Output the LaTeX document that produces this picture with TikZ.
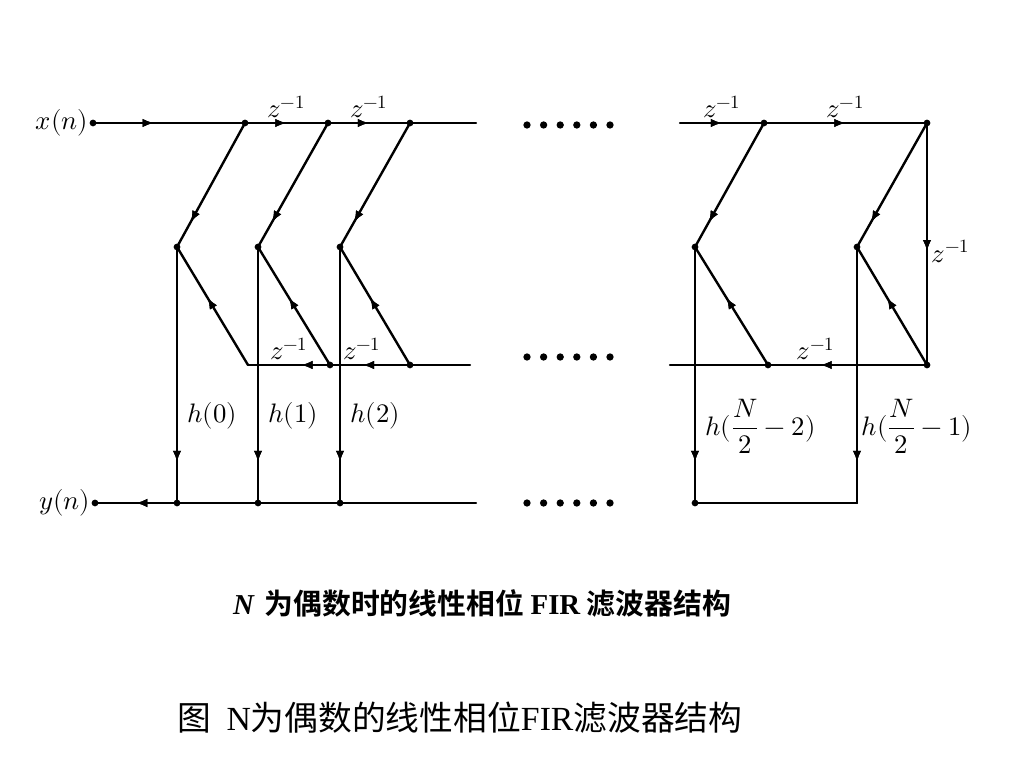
\documentclass[tikz,border=0pt]{standalone}
\usepackage{amsmath, fontspec, unicode-math, tkz-euclide}
\usetikzlibrary{arrows.meta, decorations.markings}
\setmathfont{Latin Modern Math}
\newfontfamily\cjk{Noto Sans CJK SC}[BoldFont={Noto Sans CJK SC Bold}]
\newfontfamily\romfont{Liberation Serif}
\tikzset{flow/.style = {postaction = {decorate}, decoration = {markings, mark = at position #1 with {\arrow{Latex[length=8pt, width=6pt]}}}}, flow/.default = 0.5}
\tikzset{sig/.style = {line width = 1.7pt}, lab/.style = {font = \fontsize{19}{21}\selectfont}}

\begin{document}
\begin{tikzpicture}[x=0.025cm, y=0.025cm]
\useasboundingbox (0,0) rectangle (1024,768);
\tkzDefPoints{93/645/X, 245/645/T1, 328/645/T2, 410/645/T3, 476/645/TE, 680/645/TS, 764/645/T4, 927/645/T5}
\tkzDefPoints{177/521/M1, 258/521/M2, 340/521/M3, 695/521/M4, 857/521/M5}
\tkzDefPoints{248/403/B1, 330/403/B2, 410/403/B3, 470/403/BE, 670/403/BS, 768/403/B4, 927/403/B5}
\tkzDefPoints{95/265/Y, 177/265/O1, 258/265/O2, 340/265/O3, 476/265/OE, 695/265/O4, 857/265/O5}
\tkzDrawSegment[sig, flow=0.4](X,T1)
\tkzDrawSegments[sig, flow](T1,T2 T2,T3 TS,T4 T4,T5)
\tkzDrawSegments[sig](T3,TE BE,B3 B4,BS OE,O3 O3,O2 O2,O1 O5,O4)
\tkzDrawSegment[sig, flow=0.53](T5,B5)
\tkzDrawSegments[sig, flow=0.8](T1,M1 T2,M2 T3,M3 T4,M4 T5,M5)
\tkzDrawSegments[sig, flow=0.57](B1,M1 B2,M2 B3,M3 B4,M4 B5,M5)
\tkzDrawSegment[sig, flow=0.35](B2,B1)
\tkzDrawSegment[sig, flow=0.59](B3,B2)
\tkzDrawSegment[sig, flow=0.67](B5,B4)
\tkzDrawSegments[sig, flow=0.84](M1,O1 M2,O2 M3,O3 M4,O4 M5,O5)
\tkzDrawSegment[sig, flow=0.5](O1,Y)
\foreach \p in {X,T1,T2,T3,T4,T5,M1,M2,M3,M4,M5,B2,B3,B4,B5,Y,O1,O2,O3,O4}
  \fill (\p) circle (2.4pt);
\foreach \h in {643,411,265}
  \foreach \i in {0,...,5}
    \fill (527+16.6*\i,\h) circle (2.6pt);
\tkzLabelPoint[left, lab](X){$x(n)$}
\tkzLabelPoint[left, lab](Y){$y(n)$}
\tkzLabelSegment[above, lab](T1,T2){$z^{-1}$}
\tkzLabelSegment[above, lab](T2,T3){$z^{-1}$}
\tkzLabelSegment[above, lab](TS,T4){$z^{-1}$}
\tkzLabelSegment[above, lab](T4,T5){$z^{-1}$}
\tkzLabelSegment[right, lab, pos=0.53](T5,B5){$z^{-1}$}
\tkzLabelSegment[above, lab](B2,B1){$z^{-1}$}
\tkzLabelSegment[above, lab, pos=0.6](B3,B2){$z^{-1}$}
\tkzLabelSegment[above, lab, pos=0.7](B5,B4){$z^{-1}$}
\tkzLabelSegment[right, lab, pos=0.66, xshift=4pt](M1,O1){$h(0)$}
\tkzLabelSegment[right, lab, pos=0.66, xshift=4pt](M2,O2){$h(1)$}
\tkzLabelSegment[right, lab, pos=0.66, xshift=4pt](M3,O3){$h(2)$}
\tkzLabelSegment[right, lab, pos=0.7, xshift=4pt](M4,O4){$h(\dfrac{N}{2}-2)$}
\tkzLabelSegment[right, lab, pos=0.7](M5,O5){$h(\dfrac{N}{2}-1)$}
\node (cap1) at (482,165) {\fontsize{20.5}{24}\selectfont\bfseries{\romfont\itshape N} \cjk 为偶数时的线性相位 {\romfont FIR} 滤波器结构};
\node (cap2) at (460,50) {\fontsize{24}{28}\selectfont\cjk 图\ \ {\romfont N}为偶数的线性相位{\romfont FIR}滤波器结构};
\end{tikzpicture}
\end{document}
